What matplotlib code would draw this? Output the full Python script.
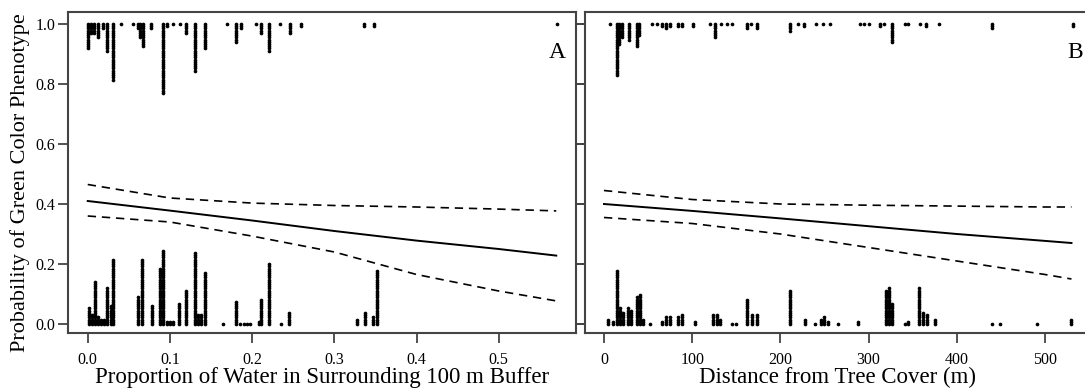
import numpy as np
import matplotlib.pyplot as plt

plt.rcParams['font.family'] = ['Liberation Serif', 'DejaVu Serif']

# Panel A: proportion of water, stacked observations (x, count)
a_green_x = [0.000, 0.004, 0.008, 0.012, 0.018, 0.024, 0.031, 0.041, 0.055, 0.061,
             0.064, 0.067, 0.077, 0.091, 0.097, 0.104, 0.112, 0.120, 0.130, 0.143,
             0.169, 0.180, 0.187, 0.205, 0.211, 0.220, 0.234, 0.246, 0.259, 0.336,
             0.348, 0.571]
a_green_n = [12, 5, 5, 7, 3, 13, 26, 1, 1, 3,
             7, 11, 3, 32, 2, 1, 1, 5, 22, 12,
             1, 9, 3, 1, 5, 13, 1, 5, 2, 2,
             2, 1]
a_brown_x = [0.001, 0.005, 0.009, 0.012, 0.016, 0.020, 0.024, 0.028, 0.031, 0.061,
             0.066, 0.078, 0.088, 0.091, 0.097, 0.100, 0.104, 0.111, 0.120, 0.130,
             0.134, 0.138, 0.143, 0.165, 0.180, 0.185, 0.190, 0.194, 0.198, 0.208,
             0.211, 0.220, 0.235, 0.245, 0.327, 0.337, 0.347, 0.352]
a_brown_n = [8, 5, 20, 4, 3, 3, 17, 9, 30, 13,
             30, 9, 26, 34, 2, 2, 2, 10, 16, 33,
             5, 5, 24, 1, 11, 1, 1, 1, 1, 2,
             12, 28, 1, 6, 3, 6, 4, 25]

# Panel A fitted curve and confidence band
a_fit_x = [0.0, 0.1, 0.2, 0.3, 0.4, 0.5, 0.57]
a_fit = [0.41, 0.378, 0.345, 0.31, 0.278, 0.25, 0.228]
a_upper = [0.465, 0.42, 0.403, 0.395, 0.39, 0.383, 0.377]
a_lower = [0.36, 0.34, 0.293, 0.24, 0.165, 0.11, 0.077]

# Panel B: distance from tree cover (m)
b_green_x = [7, 15, 17, 20, 28, 37, 40, 55, 60, 66, 70, 75, 84, 88, 101, 120, 126,
             133, 139, 145, 162, 167, 174, 211, 220, 227, 240, 248, 256, 290, 295,
             301, 313, 318, 326, 341, 345, 358, 365, 380, 440, 532]
b_green_n = [1, 24, 10, 7, 8, 11, 6, 1, 1, 2, 3, 2, 2, 2, 2, 1, 7,
             1, 1, 1, 3, 1, 3, 4, 1, 2, 1, 1, 1, 1, 1,
             1, 2, 1, 9, 1, 1, 1, 2, 1, 3, 2]
b_brown_x = [5, 10, 15, 18, 22, 27, 31, 38, 41, 44, 52, 66, 70, 75, 84, 88, 103,
             124, 128, 131, 145, 150, 162, 168, 174, 211, 228, 239, 246, 250, 254,
             265, 288, 320, 323, 327, 341, 345, 357, 362, 366, 375, 440, 449, 491, 530]
b_brown_n = [3, 2, 25, 8, 6, 8, 7, 13, 14, 3, 1, 2, 4, 4, 4, 5, 2,
             5, 5, 3, 1, 1, 12, 5, 5, 16, 3, 1, 3, 4, 2,
             1, 2, 16, 17, 10, 1, 2, 17, 6, 5, 3, 1, 1, 1, 3]

b_fit_x = [0, 100, 200, 300, 400, 500, 530]
b_fit = [0.40, 0.377, 0.352, 0.326, 0.30, 0.277, 0.27]
b_upper = [0.445, 0.415, 0.40, 0.396, 0.393, 0.39, 0.39]
b_lower = [0.355, 0.335, 0.30, 0.255, 0.21, 0.165, 0.15]

step = 0.0074  # vertical spacing of stacked dots


def stack(xs, ns, base, direction):
    px, py = [], []
    for x, n in zip(xs, ns):
        for k in range(n):
            px.append(x)
            py.append(base + direction * k * step)
    return px, py


fig = plt.figure(figsize=(10.85, 3.89), dpi=100)
axA = fig.add_axes([68 / 1085, 56 / 389, 508 / 1085, 321 / 389])
axB = fig.add_axes([585 / 1085, 56 / 389, 505 / 1085, 321 / 389])

panels = [
    (axA, a_green_x, a_green_n, a_brown_x, a_brown_n, a_fit_x, a_fit, a_upper, a_lower,
     (-0.024, 0.594), [0, 0.1, 0.2, 0.3, 0.4, 0.5], ['0.0', '0.1', '0.2', '0.3', '0.4', '0.5'],
     'Proportion of Water in Surrounding 100 m Buffer', 'A', 0.582),
    (axB, b_green_x, b_green_n, b_brown_x, b_brown_n, b_fit_x, b_fit, b_upper, b_lower,
     (-21.5, 551), [0, 100, 200, 300, 400, 500], ['0', '100', '200', '300', '400', '500'],
     'Distance from Tree Cover (m)', 'B', 543),
]

for ax, gx, gn, bx, bn, fx, f, up, lo, xlim, xt, xtl, xlabel, tag, tag_x in panels:
    x1, y1 = stack(gx, gn, 1.0, -1)
    x0, y0 = stack(bx, bn, 0.0, 1)
    ax.scatter(x1 + x0, y1 + y0, s=7, color='black', linewidths=0)
    ax.plot(fx, f, color='black', lw=1.4)
    ax.plot(fx, up, color='black', lw=1.2, dashes=(5, 3.5))
    ax.plot(fx, lo, color='black', lw=1.2, dashes=(5, 3.5))
    ax.set_xlim(*xlim)
    ax.set_ylim(-0.03, 1.04)
    ax.set_xticks(xt)
    ax.set_xticklabels(xtl, fontsize=11.5)
    ax.set_xlabel(xlabel, fontsize=16.5, labelpad=-1)
    ax.set_yticks([0, 0.2, 0.4, 0.6, 0.8, 1.0])
    for s in ax.spines.values():
        s.set_color('#444444')
        s.set_linewidth(1.5)
    ax.tick_params(direction='out', length=7, width=1.3, color='#444444')
    ax.tick_params(axis='x', pad=7)
    ax.text(tag_x, 0.905, tag, ha='right', va='center', fontsize=17)

axA.set_yticklabels(['0.0', '0.2', '0.4', '0.6', '0.8', '1.0'], fontsize=11.5)
axA.set_ylabel('Probability of Green Color Phenotype', fontsize=16)
axA.yaxis.set_label_coords(-0.074, 0.47)
axA.tick_params(axis='y', right=True, pad=2)
axB.tick_params(axis='y', labelleft=False)

fig.savefig('out.png', dpi=100)
